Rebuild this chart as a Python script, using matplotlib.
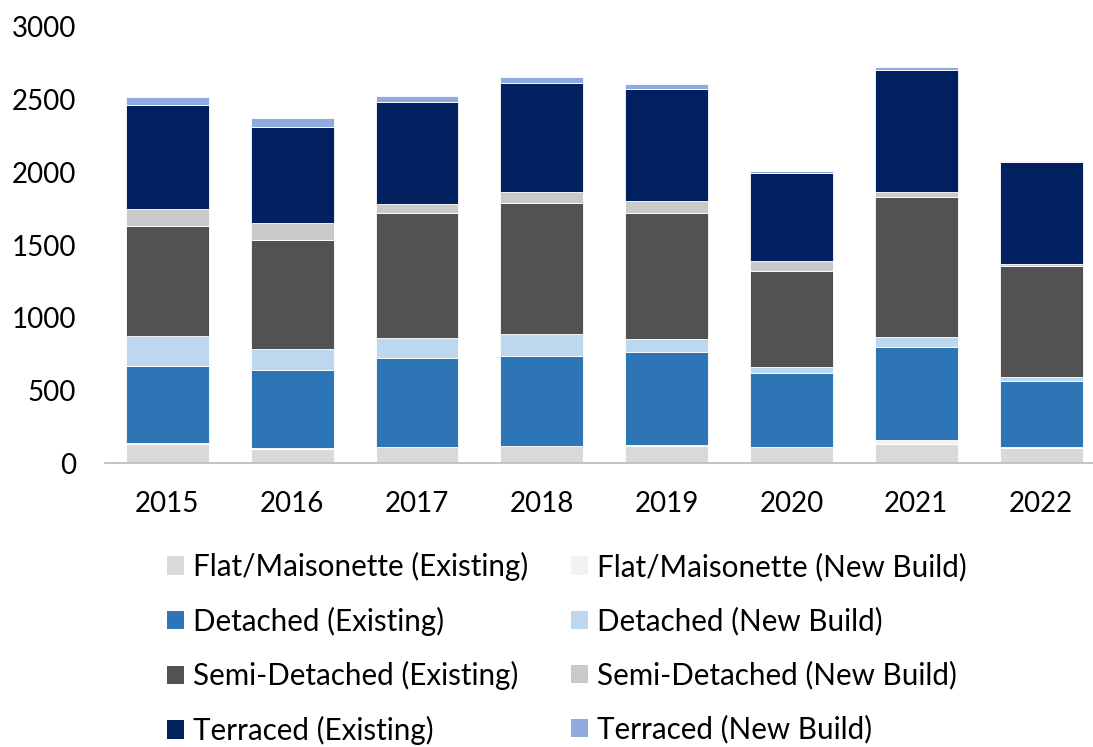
import matplotlib.pyplot as plt
import numpy as np
from matplotlib.patches import Patch

plt.rcParams['font.family'] = ['Lato', 'DejaVu Sans']

years = ['2015', '2016', '2017', '2018', '2019', '2020', '2021', '2022']

flat_existing = [133, 100, 110, 119, 122, 110, 131, 107]
flat_new = [4, 3, 3, 3, 3, 3, 27, 3]
detached_existing = [533, 541, 614, 618, 639, 510, 644, 458]
detached_new = [208, 140, 135, 152, 93, 40, 69, 24]
semi_existing = [753, 750, 858, 897, 867, 660, 957, 764]
semi_new = [119, 119, 66, 73, 79, 67, 34, 15]
terraced_existing = [713, 656, 695, 750, 768, 605, 844, 702]
terraced_new = [55, 62, 46, 44, 39, 16, 16, 2]

series = [
    ('Flat/Maisonette (Existing)', flat_existing, '#D9D9D9'),
    ('Flat/Maisonette (New Build)', flat_new, '#F2F2F2'),
    ('Detached (Existing)', detached_existing, '#2E75B6'),
    ('Detached (New Build)', detached_new, '#BDD7EE'),
    ('Semi-Detached (Existing)', semi_existing, '#525252'),
    ('Semi-Detached (New Build)', semi_new, '#C9C9C9'),
    ('Terraced (Existing)', terraced_existing, '#002060'),
    ('Terraced (New Build)', terraced_new, '#8FAADC'),
]

fig = plt.figure(figsize=(10.93, 7.47), dpi=100)
ax = fig.add_axes([105 / 1093, 0.3798, 998.5 / 1093, 0.5841])

x = np.arange(len(years))
bottom = np.zeros(len(years))
for name, vals, color in series:
    ax.bar(x, vals, width=0.664, bottom=bottom, color=color,
           edgecolor='white', linewidth=0.6, label=name)
    bottom += np.array(vals)

ax.set_xlim(-0.5, len(years) - 0.5)
ax.set_ylim(0, 3000)
ax.set_yticks(range(0, 3001, 500))
ax.set_xticks(x)
ax.set_xticklabels(years)
ax.tick_params(axis='both', length=0, labelsize=20)
ax.tick_params(axis='y', pad=21)
ax.tick_params(axis='x', pad=20)
for s in ['top', 'right', 'left']:
    ax.spines[s].set_visible(False)
ax.spines['bottom'].set_color('#BFBFBF')
ax.spines['bottom'].set_linewidth(1.3)

# legend in row-major order, two columns
handles = [Patch(facecolor=c, label=n) for n, v, c in series]
order = [0, 2, 4, 6, 1, 3, 5, 7]
fig.legend([handles[i] for i in order], [series[i][0] for i in order],
           ncol=2, loc='upper left', bbox_to_anchor=(167 / 1093, 1 - 552 / 747),
           frameon=False, fontsize=21.3, handlelength=0.58, handleheight=0.58,
           handletextpad=0.3, columnspacing=1.45, labelspacing=0.86,
           borderpad=0, borderaxespad=0)

fig.savefig('out.png', dpi=100)
